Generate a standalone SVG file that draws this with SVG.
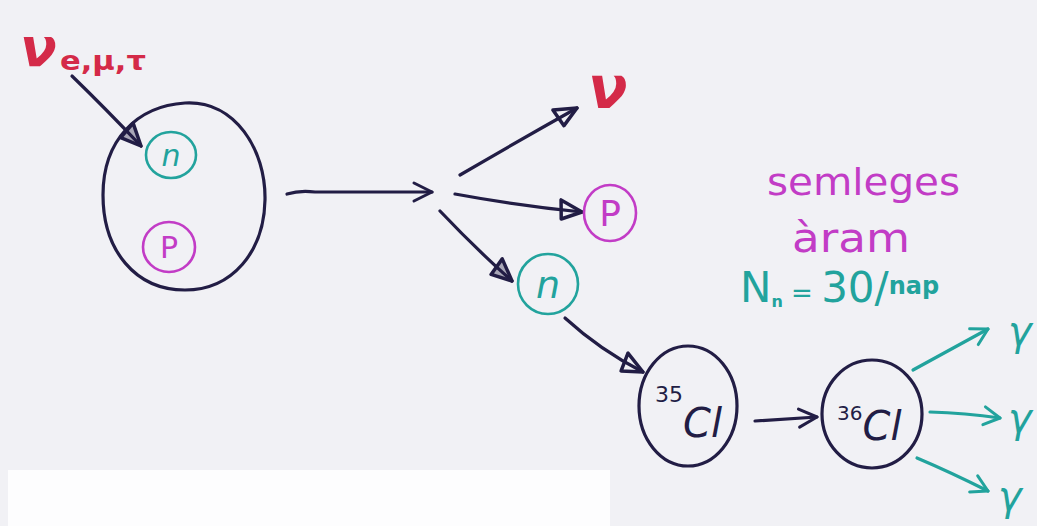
<svg xmlns="http://www.w3.org/2000/svg" width="1037" height="526" viewBox="0 0 1037 526">
<style>
.ink{fill:none;stroke:#221d45;stroke-width:3.2;stroke-linecap:round;stroke-linejoin:round}
.tealL{fill:none;stroke:#22a39d;stroke-width:3.2;stroke-linecap:round}
.tc{fill:none;stroke:#22a39d;stroke-width:2.6}
.mc{fill:none;stroke:#c23cc6;stroke-width:2.6}
.t{font-family:"DejaVu Sans","Liberation Sans",sans-serif}
.red{fill:#d42a48}
.mag{fill:#c23cc6}
.teal{fill:#22a39d}
.blk{fill:#221d45}
</style>
<defs>
<marker id="tri" markerUnits="userSpaceOnUse" viewBox="-26 -13 30 26" markerWidth="30" markerHeight="26" refX="0" refY="0" orient="auto">
<path d="M0,0 L-22,-10 L-20,9 Z" fill="none" stroke="#221d45" stroke-width="3.5" stroke-linejoin="round"/>
</marker>
<marker id="triF" markerUnits="userSpaceOnUse" viewBox="-26 -13 30 26" markerWidth="30" markerHeight="26" refX="0" refY="0" orient="auto">
<path d="M0,0 L-22,-10 L-20,9 Z" fill="#221d45" fill-opacity="0.35" stroke="#221d45" stroke-width="3.5" stroke-linejoin="round"/>
</marker>
<marker id="chev" markerUnits="userSpaceOnUse" viewBox="-22 -12 26 24" markerWidth="26" markerHeight="24" refX="0" refY="0" orient="auto">
<path d="M-18,-9 L0,0 L-18,9" fill="none" stroke="#221d45" stroke-width="3" stroke-linecap="round" stroke-linejoin="round"/>
</marker>
<marker id="chevT" markerUnits="userSpaceOnUse" viewBox="-22 -12 26 24" markerWidth="26" markerHeight="24" refX="0" refY="0" orient="auto">
<path d="M-16,-9 L0,0 L-16,9" fill="none" stroke="#22a39d" stroke-width="3" stroke-linecap="round" stroke-linejoin="round"/>
</marker>
</defs>
<rect width="1037" height="526" fill="#f1f1f5"/>
<rect x="8" y="470" width="602" height="56" fill="#fdfdfe"/>

<g id="connectors">
<path class="ink" d="M72,76 Q105,108 141,146" marker-end="url(#triF)" stroke-width="2"/>
<path class="ink" d="M287,194 Q300,190 315,192 L432,192" marker-end="url(#chev)"/>
<path class="ink" d="M460,175 Q520,140 577,108" marker-end="url(#tri)"/>
<path class="ink" d="M455,194 Q520,206 582,212" marker-end="url(#tri)"/>
<path class="ink" d="M440,211 Q475,248 512,281" marker-end="url(#triF)"/>
<path class="ink" d="M565,318 Q600,350 643,372" marker-end="url(#tri)"/>
<path class="ink" d="M755,421 L817,417" marker-end="url(#chev)" stroke-width="3.5"/>
<path class="tealL" d="M913,370 L988,329" marker-end="url(#chevT)"/>
<path class="tealL" d="M930,412 Q965,413 1000,418" marker-end="url(#chevT)"/>
<path class="tealL" d="M917,458 Q950,472 988,491" marker-end="url(#chevT)"/>
</g>

<g id="nu-label">
<text class="t red" x="20" y="66" font-size="54" font-style="italic" font-weight="bold">ν<tspan x="60" y="70" font-size="26" font-style="normal" textLength="86" lengthAdjust="spacingAndGlyphs">e,μ,τ</tspan></text>
</g>

<g id="atom">
<path class="ink" d="M185,103 C235,100 266,150 265,200 C264,252 232,290 185,290 C135,290 103,250 103,195 C103,140 137,106 185,103 Z"/>
<g id="atom-n">
<ellipse class="tc" cx="171" cy="155" rx="25" ry="23"/>
<text class="t teal" x="171" y="166" font-size="30" text-anchor="middle" font-style="italic">n</text>
</g>
<g id="atom-p">
<ellipse class="mc" cx="169" cy="247" rx="26" ry="25"/>
<text class="t mag" x="169" y="258" font-size="30" text-anchor="middle">P</text>
</g>
</g>

<g id="nu-out">
<text class="t red" x="588" y="108" font-size="58" font-style="italic" font-weight="bold">ν</text>
</g>

<g id="p-out">
<ellipse class="mc" cx="610" cy="213" rx="26" ry="28"/>
<text class="t mag" x="610" y="226" font-size="36" text-anchor="middle">P</text>
</g>

<g id="n-out">
<ellipse class="tc" cx="548" cy="284" rx="30" ry="30"/>
<text class="t teal" x="548" y="298" font-size="38" text-anchor="middle" font-style="italic">n</text>
</g>

<g id="cl35">
<ellipse class="ink" cx="688" cy="406" rx="49" ry="60"/>
<text class="t blk" x="655" y="437" font-size="40" font-style="italic"><tspan font-size="22" font-style="normal" dy="-35">35</tspan><tspan dy="35">Cl</tspan></text>
</g>

<g id="cl36">
<ellipse class="ink" cx="872" cy="414" rx="50" ry="54"/>
<text class="t blk" x="837" y="440" font-size="40" font-style="italic"><tspan font-size="20" font-style="normal" dy="-20">36</tspan><tspan dy="20">Cl</tspan></text>
</g>

<g id="gammas">
<text class="t teal" x="1008" y="345" font-size="40" font-style="italic">γ</text>
<text class="t teal" x="1008" y="432" font-size="40" font-style="italic">γ</text>
<text class="t teal" x="998" y="510" font-size="40" font-style="italic">γ</text>
</g>

<g id="note">
<text class="t mag" x="767" y="195" font-size="38" textLength="193" lengthAdjust="spacingAndGlyphs">semleges</text>
<text class="t mag" x="792" y="252" font-size="40" textLength="118" lengthAdjust="spacingAndGlyphs">àram</text>
<text class="t teal" x="740" y="302" font-size="42">N<tspan font-size="16" font-weight="bold" dy="5">n</tspan><tspan font-size="26" dy="-5"> = </tspan><tspan font-size="42">30/</tspan><tspan font-size="24" font-weight="bold" dy="-8">nap</tspan></text>
</g>
</svg>
